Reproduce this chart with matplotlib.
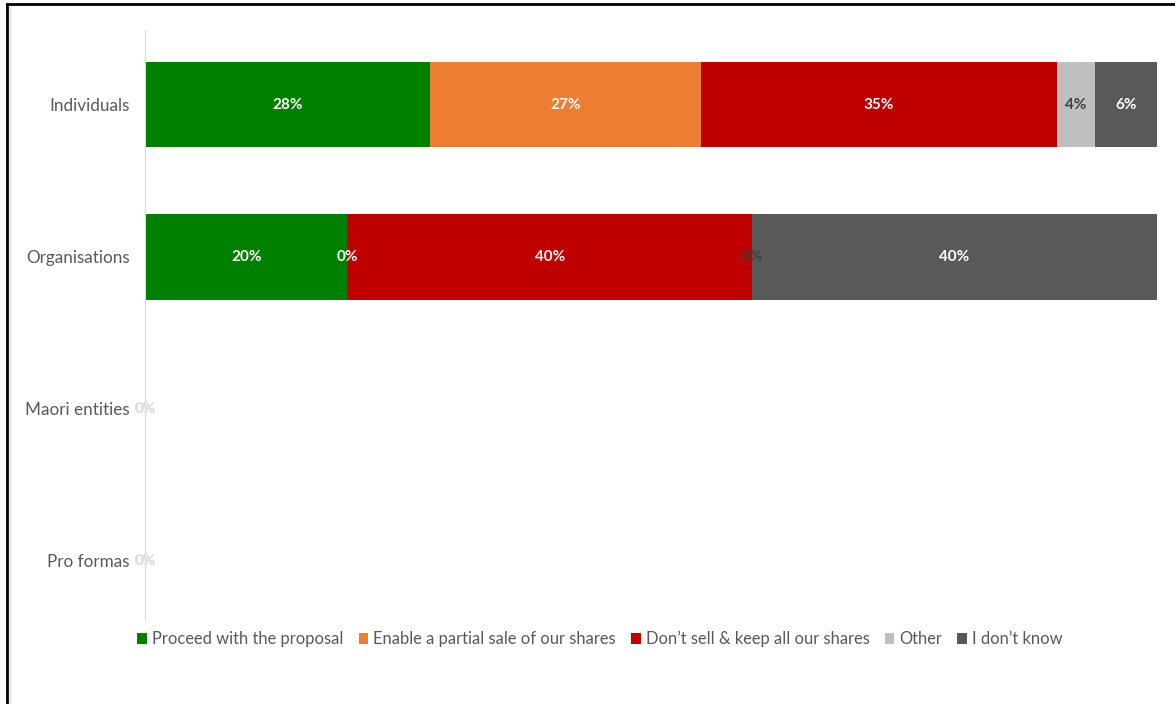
import matplotlib
matplotlib.use('Agg')
import matplotlib.pyplot as plt
from matplotlib.lines import Line2D
import numpy as np

plt.rcParams['font.family'] = ['Lato', 'DejaVu Sans']

categories = ['Individuals', 'Organisations', 'Maori entities', 'Pro formas']
series = ['Proceed with the proposal', 'Enable a partial sale of our shares',
          "Don\u2019t sell & keep all our shares", 'Other', 'I don\u2019t know']
values = {
    'Proceed with the proposal': [28.2, 20, 0, 0],
    'Enable a partial sale of our shares': [26.7, 0, 0, 0],
    "Don\u2019t sell & keep all our shares": [35.2, 40, 0, 0],
    'Other': [3.8, 0, 0, 0],
    'I don\u2019t know': [6.1, 40, 0, 0],
}
colors = ['#008000', '#ed7d31', '#c00000', '#bfbfbf', '#595959']
label_colors = ['white', 'white', 'white', '#404040', 'white']

fig = plt.figure(figsize=(11.75, 7.04), dpi=100)
ax = fig.add_axes([145 / 1175, 1 - 620 / 704, 1012 / 1175, 590 / 704])

y = np.arange(len(categories))
left = np.zeros(len(categories))
for name, c, lc in zip(series, colors, label_colors):
    v = np.array(values[name])
    ax.barh(y, v, left=left, height=0.565, color=c, label=name)
    for i in range(len(categories)):
        # empty rows: labels pile up at zero and show only faintly
        col = '#e0e0e0' if (v[i] == 0 and left[i] == 0) else lc
        ax.text(left[i] + v[i] / 2, y[i], f'{v[i]:.0f}%', ha='center', va='center',
                color=col, fontsize=11, fontweight='bold')
    left += v

ax.set_xlim(0, 100)
ax.set_ylim(3.39, -0.49)
ax.set_yticks(y)
ax.set_yticklabels(categories, fontsize=12.3, color='#595959')
ax.tick_params(axis='y', length=0, pad=11)
ax.set_xticks([])
for s in ['top', 'right', 'bottom']:
    ax.spines[s].set_visible(False)
ax.spines['left'].set_color('#d9d9d9')

fig.legend(loc='center', bbox_to_anchor=(600 / 1175, 1 - 639 / 704), ncol=5, frameon=False,
           fontsize=11.9, labelcolor='#595959', handlelength=0.6, handleheight=0.6,
           handletextpad=0.3, columnspacing=0.9)

# outer frame lines
fig.add_artist(Line2D([7 / 1175, 7 / 1175], [0, 1 - 4 / 704], color='black', lw=2))
fig.add_artist(Line2D([7 / 1175, 1], [1 - 4 / 704, 1 - 4 / 704], color='black', lw=2))
fig.add_artist(Line2D([10 / 1175, 10 / 1175], [0, 1 - 7 / 704], color='#d9d9d9', lw=1))

fig.savefig('out.png', dpi=100)
